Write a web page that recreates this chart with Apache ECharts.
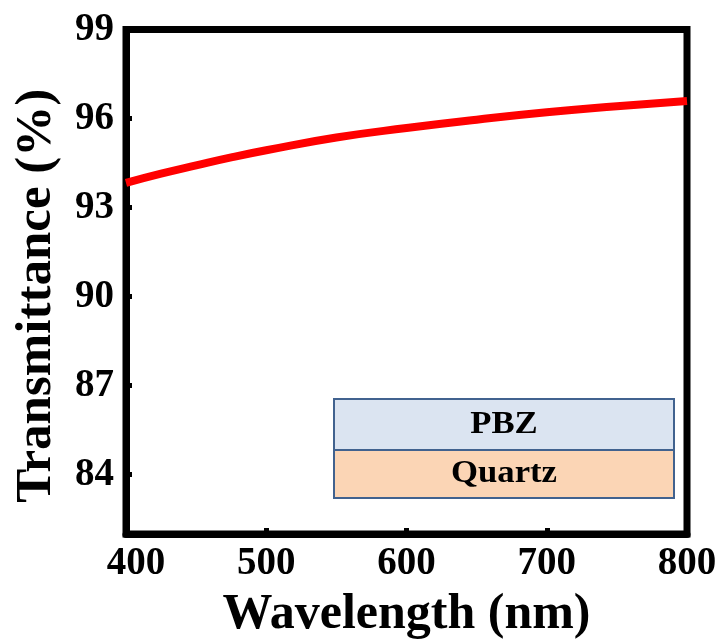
<!DOCTYPE html>
<html>
<head>
<meta charset="utf-8">
<script src="https://cdn.jsdelivr.net/npm/echarts@6/dist/echarts.min.js"></script>
<style>
  html, body { margin: 0; padding: 0; background: #fff; }
  #chart { width: 718px; height: 639px; }
</style>
</head>
<body>
<div id="chart"></div>
<script>
// Transmittance spectrum of a PBZ film on quartz
const wavelengths = [400, 425, 450, 475, 500, 550, 600, 650, 700, 750, 800];
const transmittance = [93.83, 94.14, 94.42, 94.69, 94.93, 95.36, 95.68, 95.96, 96.21, 96.41, 96.59];
const xTicks = [400, 500, 600, 700, 800];
const yTicks = [84, 87, 90, 93, 96, 99];
const stackLayers = ['PBZ', 'Quartz'];

const serif = 'Liberation Serif, Times New Roman, serif';
const chart = echarts.init(document.getElementById('chart'), null, { renderer: 'canvas' });

const gridBox = { left: 126, right: 31, top: 29.5, bottom: 105 };

chart.setOption({
  animation: false,
  grid: {
    left: gridBox.left, right: gridBox.right, top: gridBox.top, bottom: gridBox.bottom,
    outerBoundsMode: 'none', containLabel: false,
    show: true, borderColor: '#000', borderWidth: 7, backgroundColor: 'transparent'
  },
  xAxis: {
    type: 'value', min: 400, max: 800,
    name: 'Wavelength (nm)', nameLocation: 'middle', nameGap: 56,
    nameTextStyle: { fontFamily: serif, fontWeight: 'bold', fontSize: 50, color: '#000' },
    axisLine: { show: true, lineStyle: { color: '#000', width: 7 } },
    axisTick: { show: true, inside: true, length: 6, lineStyle: { color: '#000', width: 5 }, customValues: xTicks },
    axisLabel: {
      fontFamily: serif, fontWeight: 'bold', fontSize: 39, color: '#000', margin: 10, customValues: xTicks,
      // the first label sits slightly to the right of its tick
      formatter: v => (v === xTicks[0] ? '{first|' + v + '}' : String(v)),
      rich: { first: { fontFamily: serif, fontWeight: 'bold', fontSize: 39, color: '#000', padding: [0, 0, 0, 20] } }
    },
    splitLine: { show: false }
  },
  yAxis: {
    type: 'value', min: 82, max: 99,
    name: 'Transmittance (%)', nameLocation: 'middle', nameGap: 64, nameRotate: 90,
    nameTextStyle: { fontFamily: serif, fontWeight: 'bold', fontSize: 51, color: '#000', padding: [0, 28, 0, 0] },
    axisLine: { show: true, lineStyle: { color: '#000', width: 7 } },
    axisTick: { show: true, inside: true, length: 6, lineStyle: { color: '#000', width: 5 }, customValues: yTicks },
    axisLabel: { fontFamily: serif, fontWeight: 'bold', fontSize: 39, color: '#000', margin: 12, customValues: yTicks },
    splitLine: { show: false }
  },
  series: [{
    type: 'line',
    data: wavelengths.map((w, i) => [w, transmittance[i]]),
    smooth: true,
    showSymbol: false,
    lineStyle: { color: '#ff0000', width: 8 },
    clip: true
  }],
  graphic: [
    {
      type: 'group', left: 333, top: 398,
      children: [
        { type: 'rect', shape: { x: 0, y: 0, width: 340, height: 51 },
          style: { fill: '#dbe4f1', stroke: '#41628f', lineWidth: 2 } },
        { type: 'rect', shape: { x: 0, y: 51, width: 340, height: 48 },
          style: { fill: '#fbd5b5', stroke: '#41628f', lineWidth: 2 } },
        { type: 'text', x: 170, y: 26, scaleX: 1.12,
          style: { text: stackLayers[0], fontFamily: serif, fontWeight: 'bold', fontSize: 31, fill: '#000', align: 'center', verticalAlign: 'middle' } },
        { type: 'text', x: 170, y: 75, scaleX: 1.12,
          style: { text: stackLayers[1], fontFamily: serif, fontWeight: 'bold', fontSize: 31, fill: '#000', align: 'center', verticalAlign: 'middle' } }
      ]
    }
  ]
});
</script>
</body>
</html>
